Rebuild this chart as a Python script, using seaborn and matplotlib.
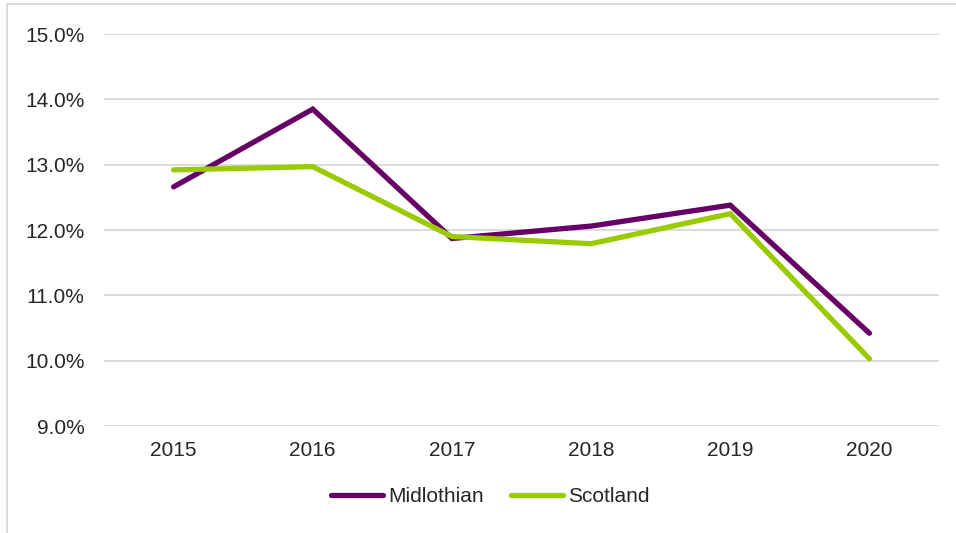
import pandas as pd
import matplotlib.pyplot as plt
import matplotlib.patches as mpatches
from matplotlib.ticker import PercentFormatter
import seaborn as sns

# Dados
anos = ["2015", "2016", "2017", "2018", "2019", "2020"]
midlothian = [12.66, 13.85, 11.87, 12.06, 12.38, 10.42]
scotland = [12.92, 12.97, 11.90, 11.79, 12.25, 10.03]

df = pd.DataFrame({
    "Ano": anos * 2,
    "Valor": midlothian + scotland,
    "Area": ["Midlothian"] * len(anos) + ["Scotland"] * len(anos),
})

sns.set_style("white")
plt.rcParams["font.family"] = ["Liberation Sans", "DejaVu Sans"]

fig = plt.figure(figsize=(9.56, 5.33), dpi=100)
ax = fig.add_axes([104 / 956, 1 - 426 / 533, 835 / 956, 392 / 533])

sns.lineplot(data=df, x="Ano", y="Valor", hue="Area", sort=False,
             palette={"Midlothian": "#660066", "Scotland": "#99CC00"},
             linewidth=3.8, ax=ax)
for line in ax.lines:
    line.set_solid_capstyle("round")
    line.set_solid_joinstyle("miter")

ax.set_xlim(-0.5, len(anos) - 0.5)
ax.set_ylim(9, 15)
ax.set_yticks([9, 10, 11, 12, 13, 14, 15])
ax.yaxis.set_major_formatter(PercentFormatter(decimals=1))
ax.grid(axis="y", color="#d9d9d9", linewidth=1.3)
ax.set_axisbelow(True)
sns.despine(ax=ax, left=True, bottom=True)
ax.tick_params(axis="y", length=0, pad=14, labelsize=15)
ax.tick_params(axis="x", length=0, pad=11, labelsize=15)
ax.set_xlabel("")
ax.set_ylabel("")

ax.legend(loc="center", bbox_to_anchor=(490 / 956, 1 - 497 / 533),
          bbox_transform=fig.transFigure, ncol=2, frameon=False,
          fontsize=15, handlelength=2.5, handletextpad=0.25,
          columnspacing=1.3, title=None)
for h in ax.get_legend().get_lines():
    h.set_linewidth(3.8)
    h.set_solid_capstyle("round")

# moldura do gráfico
fig.patches.append(mpatches.Rectangle((7 / 956, -0.1), 1.2, 1 - 4 / 533 + 0.1,
                                      transform=fig.transFigure, fill=False,
                                      edgecolor="#d9d9d9", linewidth=1.3))

fig.savefig("out.png", dpi=100)
